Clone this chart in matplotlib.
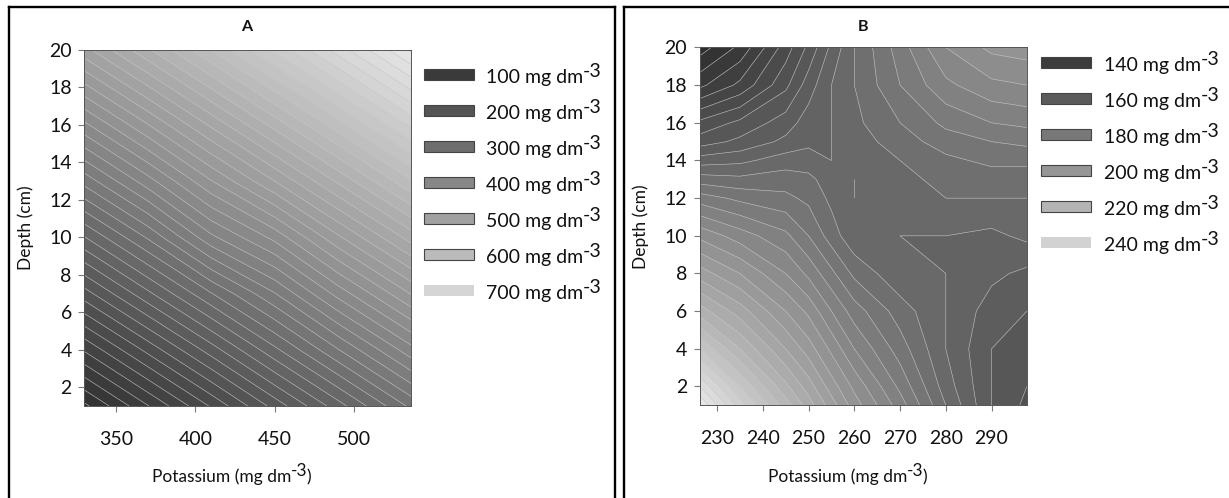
import numpy as np
import matplotlib
matplotlib.use("Agg")
import matplotlib.pyplot as plt
from matplotlib.colors import Normalize
from matplotlib.patches import Rectangle
from matplotlib.lines import Line2D

plt.rcParams['font.family'] = ['Lato', 'DejaVu Sans']

W, H = 1229, 498

# Panel A
a_potassium = [330, 370, 410, 450, 490, 536]
a_depth = [1, 4, 7, 10, 13, 16, 20]
a_values = [
    [60, 111, 162, 214, 265, 324],
    [130, 181, 232, 284, 335, 394],
    [201, 252, 303, 351, 406, 465],
    [271, 322, 380, 421, 477, 535],
    [342, 393, 447, 496, 547, 606],
    [412, 463, 515, 566, 617, 676],
    [506, 557, 608, 660, 711, 770],
]
a_xticks = [350, 400, 450, 500]
a_legend = [100, 200, 300, 400, 500, 600, 700]

# Panel B
b_potassium = [226.2, 235, 245, 250, 255, 260, 270, 280, 290, 297.7]
b_depth = [1, 2, 4, 6, 8, 10, 12, 13, 14, 15, 16, 18, 20]
b_values = [
    [256, 238, 222, 214, 206, 198, 186, 172, 160, 155],
    [248, 232, 217, 210, 202, 195, 183, 170, 160, 156],
    [232, 220, 208, 202, 195, 188, 178, 168, 160, 157],
    [218, 210, 200, 195, 188, 182, 174, 168, 162, 160],
    [206, 200, 192, 187, 181, 175, 169, 168, 165, 163],
    [195, 190, 185, 180, 174, 169, 168, 168, 167, 169],
    [182, 179, 177, 175, 171, 168, 170, 172, 172, 172],
    [174, 173, 174, 173, 170, 168, 171, 173, 174, 174],
    [166, 167, 170, 170, 168, 169, 172, 175, 177, 177],
    [158, 161, 165, 167, 168, 170, 174, 178, 180, 181],
    [153, 157, 162, 166, 168, 171, 176, 181, 184, 185],
    [139, 145, 155, 162, 168, 172, 180, 187, 191, 192],
    [130, 137, 150, 157, 165, 172, 182, 192, 197, 198],
]
b_xticks = [230, 240, 250, 260, 270, 280, 290]
b_legend = [140, 160, 180, 200, 220, 240]

y_ticks = [2, 4, 6, 8, 10, 12, 14, 16, 18, 20]

FS = 14
GREY = '#7a7a7a'


def px_axes(fig, x0, y0, x1, y1):
    return fig.add_axes([x0 / W, 1 - y1 / H, (x1 - x0) / W, (y1 - y0) / H])


def panel(fig, box, xs, ys, zs, step, lo, hi, vmin, vmax, xticks, title, title_x, title_y,
          legend, sw_x, sw_tops, text_x, xlabel_x, xlabel_y, ylabel_x):
    ax = px_axes(fig, *box)
    zs = np.array(zs, float)
    levels = np.arange(lo, hi + step, step)
    norm = Normalize(vmin, vmax)
    ax.contourf(xs, ys, zs, levels=levels, cmap='gray', norm=norm)
    ax.contour(xs, ys, zs, levels=levels, colors='#c4c4c4', linewidths=0.4)
    ax.set_xlim(xs[0], xs[-1])
    ax.set_ylim(1, 20)
    ax.set_xticks(xticks)
    ax.set_yticks(y_ticks)
    ax.tick_params(axis='both', length=4, width=0.8, color=GREY, labelsize=FS, pad=10, labelcolor='#111111')
    ax.tick_params(axis='x', pad=14)
    ax.tick_params(axis='y', pad=5)
    for s in ax.spines.values():
        s.set_color('#555555')
        s.set_linewidth(0.7)

    fig.text(title_x / W, 1 - title_y / H, title, fontsize=11.5, fontweight='bold',
             ha='center', va='center', color='#111111')
    fig.text(ylabel_x / W, 1 - (box[1] + box[3]) / 2 / H, 'Depth (cm)', fontsize=12.5, rotation=90,
             ha='center', va='center', color='#111111')

    t = fig.text(xlabel_x / W, 1 - xlabel_y / H, 'Potassium (mg dm', fontsize=12.5,
                 ha='left', va='baseline', color='#111111')
    fig.canvas.draw()
    b = t.get_window_extent()
    fig.text(b.x1 / W, 1 - (xlabel_y - 6) / H, '-3', fontsize=12.5, ha='left', va='baseline', color='#111111')
    fig.text((b.x1 + 15) / W, 1 - xlabel_y / H, ')', fontsize=12.5, ha='left', va='baseline', color='#111111')

    for v, top in zip(legend, sw_tops):
        c = plt.get_cmap('gray')(norm(v))
        is_last = v == legend[-1]
        fig.add_artist(Rectangle((sw_x[0] / W, 1 - (top + 11) / H), (sw_x[1] - sw_x[0]) / W, 11 / H,
                                 transform=fig.transFigure, facecolor=c,
                                 edgecolor='none' if is_last else '#444444', linewidth=0.8))
        base = top + 14
        t = fig.text(text_x / W, 1 - base / H, f'{v} mg dm', fontsize=FS, ha='left', va='baseline', color='#111111')
        fig.canvas.draw()
        b = t.get_window_extent()
        fig.text(b.x1 / W, 1 - (base - 6) / H, '-3', fontsize=FS, ha='left', va='baseline', color='#111111')
    return ax


fig = plt.figure(figsize=(W / 100, H / 100), dpi=100, facecolor='white')

panel(fig, (84.3, 50, 411, 406), a_potassium, a_depth, a_values, 16, 48, 784, -125.7, 866,
      a_xticks, 'A', 247, 27, a_legend, (423.5, 473.7),
      [69.3, 105.3, 141.3, 177.3, 213.3, 248.7, 285], 486, 152, 482, 26)
panel(fig, (699.7, 47.5, 1026.8, 405.3), b_potassium, b_depth, b_values, 4, 124, 264, 100, 270,
      b_xticks, 'B', 863, 27, b_legend, (1040.5, 1091),
      [56.7, 93, 129, 165, 201, 237], 1104, 768, 482, 641)

# Black panel frames (open at the figure's lower and right edges)
for xs_, ys_ in [((9, 9), (498, 7.5)), ((9, 615), (7.5, 7.5)), ((615, 615), (7.5, 498)),
                 ((623.5, 623.5), (498, 7.5)), ((623.5, 1229), (7.5, 7.5))]:
    fig.add_artist(Line2D([x / W for x in xs_], [1 - y / H for y in ys_],
                          transform=fig.transFigure, color='black', linewidth=1.7))

fig.savefig('out.png', dpi=100)
